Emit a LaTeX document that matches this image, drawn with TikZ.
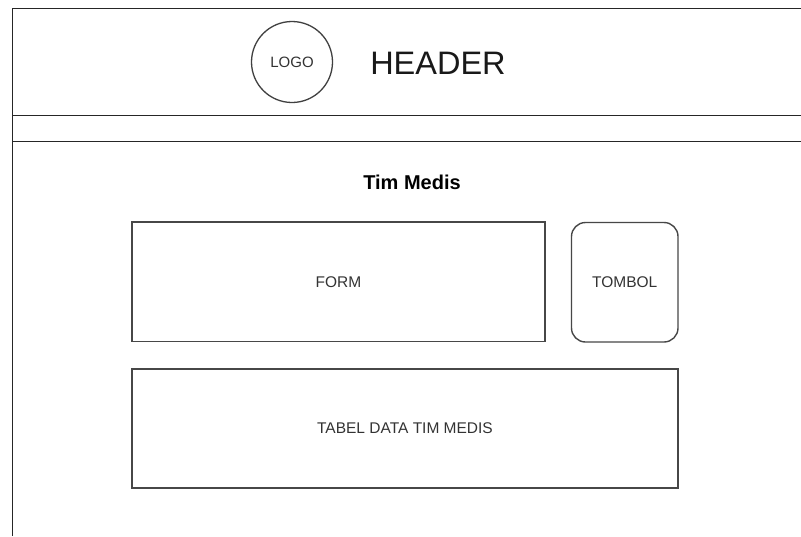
\documentclass[tikz,border=0pt]{standalone}
\usepackage{fontspec}
\setmainfont{Liberation Sans}
\begin{document}
\begin{tikzpicture}[x=1pt, y=-1pt,
  frameline/.style={draw=black!85, line width=1.3pt},
  panel/.style={draw=black!72, line width=1.4pt, fill=white, inner sep=0pt,
    font=\fontsize{15.5}{18}\selectfont, text=black!80},
  roundpanel/.style={panel, rounded corners=14pt},
  logocircle/.style={draw=black!75, line width=1.3pt, circle, inner sep=0pt,
    minimum size=81pt, font=\fontsize{15}{18}\selectfont, text=black!80},
  title/.style={inner sep=0pt, font=\bfseries\fontsize{20}{24}\selectfont},
  headertext/.style={inner sep=0pt, font=\fontsize{32.5}{38}\selectfont, text=black!90}]

  % page area
  \useasboundingbox[fill=white] (0,0) rectangle (801,536);

  % outer frame and header bands
  \coordinate (frametl) at (12.5,8.5);
  \coordinate (frametr) at (801,8.5);
  \coordinate (framebl) at (12.5,536);
  \coordinate (bandal) at (12.5,115.5);
  \coordinate (bandar) at (801,115.5);
  \coordinate (bandbl) at (12.5,141.5);
  \coordinate (bandbr) at (801,141.5);
  \draw[frameline] (framebl) -- (frametl) -- (frametr);
  \draw[frameline] (bandal) -- (bandar);
  \draw[frameline] (bandbl) -- (bandbr);

  % header content
  \node[logocircle] (logo) at (292,62) {LOGO};
  \node[headertext] (header) at (438,63) {HEADER};

  % page title
  \node[title] (title) at (412,182) {Tim Medis};

  % form, button and table
  \node[panel, minimum width=413pt, minimum height=119.5pt] (form) at (338.5,281.75) {FORM};
  \node[roundpanel, minimum width=106.5pt, minimum height=119.5pt] (tombol) at (624.75,282.25) {TOMBOL};
  \node[panel, minimum width=546pt, minimum height=119pt] (tabel) at (405,428.5) {TABEL DATA TIM MEDIS};
\end{tikzpicture}
\end{document}
